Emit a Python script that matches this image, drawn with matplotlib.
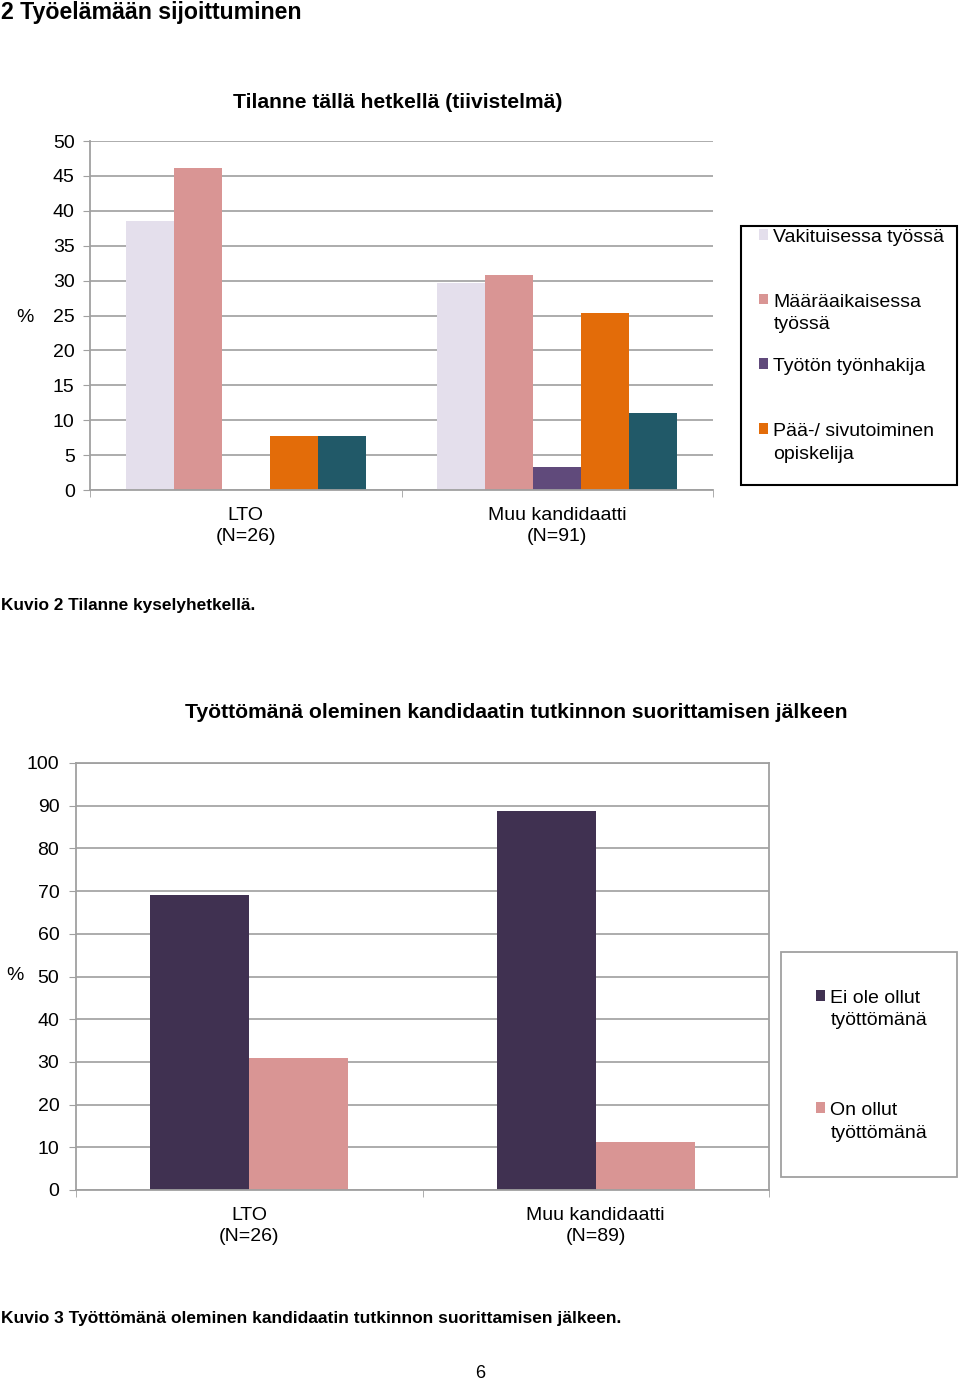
import matplotlib.pyplot as plt
from matplotlib.patches import Rectangle
import numpy as np

plt.rcParams['font.family'] = ['Liberation Sans', 'DejaVu Sans']

# Kuvio 2 data
groups1 = ["LTO\n(N=26)", "Muu kandidaatti\n(N=91)"]
series1 = ["Vakituisessa työssä\n", "Määräaikaisessa\ntyössä", "Työtön työnhakija\n",
           "Pää-/ sivutoiminen\nopiskelija", None]
vakituinen = [38.5, 29.7]
maaraaikainen = [46.2, 30.8]
tyoton = [0.0, 3.3]
opiskelija = [7.7, 25.3]
muu = [7.7, 11.0]
colors1 = ["#E4DFEC", "#D99594", "#604A7B", "#E36C09", "#215968"]

# Kuvio 3 data
groups2 = ["LTO\n(N=26)", "Muu kandidaatti\n(N=89)"]
series2 = ["Ei ole ollut\ntyöttömänä", "On ollut\ntyöttömänä"]
ei_ole = [69.2, 88.8]
on_ollut = [30.8, 11.2]
colors2 = ["#403151", "#D99594"]

W, H = 960, 1381
fig = plt.figure(figsize=(W / 100, H / 100), dpi=100)
FS = 14


def fx(px):
    return px / W


def fy(py):
    return 1 - py / H


def style_axes(ax, ymax, step, box, ypad):
    ax.set_ylim(0, ymax)
    ax.set_xlim(-0.5, 1.5)
    ax.set_yticks(np.arange(0, ymax + 0.1, step))
    ax.yaxis.grid(True, color="#A6A6A6", lw=1.3)
    ax.set_axisbelow(True)
    for s in ["top", "right"]:
        ax.spines[s].set_visible(box)
    for s in ax.spines.values():
        s.set_color("#A0A0A0")
        s.set_linewidth(1.3)
    ax.tick_params(axis="y", length=5, color="#A0A0A0", labelsize=FS, pad=ypad)
    ax.set_xticks([0, 1])
    ax.set_xticks([-0.5, 0.5, 1.5], minor=True)
    ax.tick_params(axis="x", which="major", length=0, labelsize=FS, pad=12)
    ax.tick_params(axis="x", which="minor", length=5, color="#A0A0A0")


def make_legend(ax, x0, y0, spacing):
    leg = ax.legend(loc="upper left", bbox_to_anchor=(fx(x0), fy(y0)), bbox_transform=fig.transFigure,
                    fontsize=FS, frameon=False, handlelength=0.46, handleheight=0.46,
                    handletextpad=0.28, labelspacing=spacing, borderpad=0, borderaxespad=0)
    for t in leg.get_texts():
        t.set_linespacing(1.42)
    # marker next to the first line of each label
    for col in leg._legend_handle_box.get_children():
        for item in col.get_children():
            item.align = "top"
    return leg


# top chart
ax1 = fig.add_axes([fx(90), fy(490), fx(623), 349 / H])
x = np.arange(len(groups1))
vals1 = [vakituinen, maaraaikainen, tyoton, opiskelija, muu]
w1 = 1 / 6.5
for i, (name, v, c) in enumerate(zip(series1, vals1, colors1)):
    ax1.bar(x + (i - 2) * w1, v, w1, color=c, label=name if name else "_nolegend_")
style_axes(ax1, 50, 5, False, 6)
ax1.set_xticklabels(groups1, linespacing=1.35)
fig.text(fx(398), fy(103), "Tilanne tällä hetkellä (tiivistelmä)", fontsize=15.2, fontweight="bold",
         ha="center", va="center")
make_legend(ax1, 759, 229, 1.3)
fig.add_artist(Rectangle((fx(741), fy(485)), fx(216), 259 / H, transform=fig.transFigure,
                         fill=False, edgecolor="black", lw=1.5))
fig.text(fx(25), fy(318), "%", fontsize=FS, ha="center", va="center")

# bottom chart
ax2 = fig.add_axes([fx(76), fy(1190), fx(693), 427 / H])
x2 = np.arange(len(groups2))
w2 = 1 / 3.5
ax2.bar(x2 - w2 / 2, ei_ole, w2, color=colors2[0], label=series2[0])
ax2.bar(x2 + w2 / 2, on_ollut, w2, color=colors2[1], label=series2[1])
style_axes(ax2, 100, 10, True, 7)
ax2.set_xticklabels(groups2, linespacing=1.35)
fig.text(fx(516), fy(712), "Työttömänä oleminen kandidaatin tutkinnon suorittamisen jälkeen",
         fontsize=15.2, fontweight="bold", ha="center", va="center")
make_legend(ax2, 816, 990, 3.75)
fig.add_artist(Rectangle((fx(781), fy(1177)), fx(176), 225 / H, transform=fig.transFigure,
                         fill=False, edgecolor="#A0A0A0", lw=1.3))
fig.text(fx(15), fy(975), "%", fontsize=FS, ha="center", va="center")

# page texts
fig.text(fx(1), fy(12), "2 Työelämään sijoittuminen", fontsize=16.7, fontweight="bold", va="center")
fig.text(fx(1), fy(605), "Kuvio 2 Tilanne kyselyhetkellä.", fontsize=12.4, fontweight="bold", va="center")
fig.text(fx(1), fy(1319), "Kuvio 3 Työttömänä oleminen kandidaatin tutkinnon suorittamisen jälkeen.",
         fontsize=12.5, fontweight="bold", va="center")
fig.text(fx(480), fy(1373), "6", fontsize=13, ha="center", va="center")

fig.savefig("out.png", dpi=100)
